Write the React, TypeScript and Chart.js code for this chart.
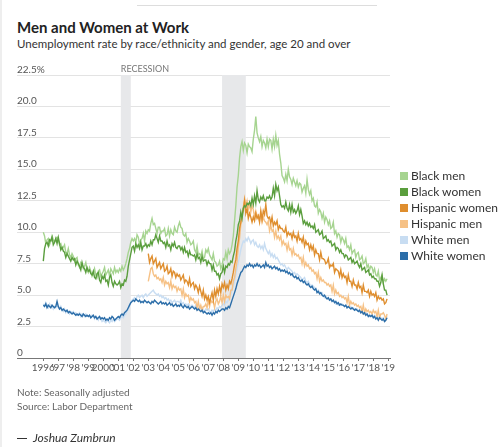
import React, { useEffect, useRef } from "react";
import { Chart, registerables } from "chart.js";

Chart.register(...registerables);

// ---- data (monthly, seasonally adjusted, %) ----
const startMain = 1996; // Jan 1996
const startHispanic = 2003; // Jan 2003

const blackMen = [
  10.0, 9.7, 9.1, 9.4, 9.5, 9.0, 9.3, 9.7, 9.4, 9.2, 9.5, 9.6,
  9.4, 9.0, 9.1, 8.7, 8.8, 9.0, 8.4, 8.3, 8.7, 8.2, 8.0, 8.3,
  8.1, 7.7, 7.9, 8.0, 7.4, 7.2, 7.6, 7.5, 7.1, 7.3, 7.6, 7.0,
  6.8, 7.2, 6.9, 6.5, 6.7, 7.1, 6.6, 6.4, 6.9, 7.0, 6.5, 6.7,
  6.9, 7.2, 6.6, 6.8, 7.0, 6.5, 7.1, 6.9, 6.7, 7.2, 6.8, 7.0,
  6.8, 7.1, 6.9, 7.3, 7.0, 7.2, 7.5, 7.9, 8.4, 8.7, 9.2, 9.5,
  9.3, 9.5, 9.2, 9.8, 9.6, 9.0, 9.4, 9.5, 9.9, 9.3, 10.1, 9.9,
  10.2, 10.1, 10.7, 11.1, 10.6, 10.7, 10.3, 9.9, 10.4, 10.4, 9.9, 10.1,
  10.1, 10.3, 9.7, 9.8, 10.3, 9.7, 10.2, 9.9, 9.8, 10.4, 10.1, 10.0,
  10.5, 10.8, 10.4, 10.3, 9.8, 9.7, 9.9, 9.2, 9.5, 9.3, 9.0, 9.1,
  9.3, 8.6, 8.4, 8.9, 8.2, 8.3, 8.1, 8.5, 7.9, 8.0, 8.6, 8.4,
  8.7, 8.2, 8.0, 7.8, 8.3, 7.7, 7.6, 7.3, 7.4, 7.7, 7.1, 7.4,
  7.9, 7.8, 8.4, 7.9, 8.6, 8.3, 8.5, 9.0, 9.7, 10.9, 12.1, 13.6,
  14.5, 15.9, 16.8, 17.2, 16.5, 17.1, 16.9, 16.3, 17.0, 16.8, 16.7, 16.4,
  17.4, 18.1, 19.2, 17.9, 17.5, 17.2, 17.6, 16.8, 17.3, 17.1, 16.7, 17.4,
  16.8, 17.4, 17.3, 16.6, 17.4, 16.8, 17.7, 16.9, 17.3, 16.2, 15.5, 14.5,
  14.3, 14.0, 14.6, 14.1, 15.0, 14.4, 14.2, 13.8, 14.3, 14.0, 13.7, 14.1,
  13.6, 13.9, 13.8, 13.2, 13.5, 13.7, 13.1, 14.2, 13.4, 13.0, 13.3, 12.5,
  12.7, 12.1, 12.0, 12.4, 11.5, 11.8, 11.6, 11.1, 11.5, 10.8, 11.2, 11.0,
  10.6, 10.9, 10.3, 10.4, 10.8, 9.9, 10.1, 9.6, 9.9, 9.8, 9.2, 9.6,
  9.4, 9.1, 9.5, 8.8, 8.9, 8.6, 9.0, 8.3, 8.5, 8.6, 8.0, 8.3,
  8.4, 7.8, 7.9, 8.1, 7.5, 7.6, 7.9, 7.2, 7.4, 7.0, 7.3, 7.2,
  6.8, 7.1, 6.6, 6.5, 6.9, 6.2, 6.4, 6.6, 6.0, 6.3, 6.1, 6.3,
];

const blackWomen = [
  7.7, 8.7, 9.1, 9.2, 8.9, 9.4, 9.3, 9.6, 9.0, 9.2, 9.5, 9.1,
  9.6, 9.1, 8.6, 8.8, 8.5, 8.4, 8.0, 8.3, 8.1, 7.9, 7.7, 8.0,
  7.8, 7.9, 7.4, 7.7, 7.5, 7.3, 7.0, 7.6, 7.2, 7.1, 6.8, 7.2,
  6.9, 7.0, 6.7, 6.6, 6.9, 6.4, 6.3, 6.7, 6.8, 6.2, 6.0, 6.5,
  6.3, 6.6, 6.1, 6.2, 5.8, 6.4, 6.6, 6.0, 5.7, 6.1, 5.9, 5.8,
  5.9, 6.1, 5.6, 5.9, 5.8, 6.2, 6.1, 6.5, 7.3, 7.8, 8.3, 8.8,
  8.9, 8.5, 9.1, 8.8, 9.0, 8.7, 9.2, 8.6, 8.9, 8.9, 9.1, 8.8,
  9.0, 8.9, 9.3, 9.0, 9.4, 9.4, 9.8, 9.5, 9.2, 9.7, 9.3, 9.3,
  9.1, 9.2, 8.8, 9.3, 8.9, 9.0, 8.6, 9.1, 8.9, 9.2, 8.8, 8.7,
  8.9, 8.9, 8.6, 8.8, 8.4, 8.8, 8.4, 8.5, 8.1, 8.5, 8.2, 8.2,
  8.1, 8.2, 7.8, 8.3, 7.9, 8.0, 7.6, 8.1, 7.7, 7.8, 7.8, 7.4,
  7.7, 7.5, 7.5, 7.0, 7.4, 6.9, 6.9, 6.6, 6.7, 6.3, 6.7, 6.8,
  7.3, 6.8, 7.3, 7.2, 7.5, 7.4, 7.7, 7.6, 8.1, 8.5, 9.3, 9.8,
  10.6, 10.9, 11.6, 11.1, 11.9, 12.1, 12.0, 12.3, 12.2, 12.4, 12.1, 12.7,
  12.2, 12.9, 12.3, 13.3, 12.6, 12.4, 12.8, 12.6, 12.9, 12.5, 12.5, 12.8,
  12.7, 12.9, 12.6, 12.8, 13.5, 12.9, 13.8, 13.3, 13.6, 12.9, 12.2, 12.0,
  12.1, 11.9, 12.4, 11.9, 11.7, 12.2, 11.6, 12.2, 11.6, 11.8, 11.5, 11.7,
  12.1, 11.4, 11.8, 11.3, 10.7, 10.9, 10.6, 10.8, 10.5, 10.7, 10.4, 10.5,
  10.3, 10.6, 10.0, 10.1, 10.2, 9.8, 9.9, 10.1, 9.5, 9.6, 9.7, 9.3,
  9.4, 9.2, 9.3, 8.9, 9.0, 9.1, 8.6, 8.8, 8.7, 8.4, 8.6, 8.3,
  8.3, 8.0, 8.2, 8.1, 7.8, 7.9, 8.0, 7.6, 7.8, 7.5, 7.6, 7.7,
  7.4, 7.2, 7.5, 7.0, 7.1, 7.2, 6.8, 6.9, 7.0, 6.6, 6.7, 6.4,
  6.5, 6.3, 6.3, 6.1, 6.1, 5.7, 6.0, 6.6, 5.9, 5.4, 5.4, 5.0,
];

const hispanicWomen = [
  8.3, 7.6, 7.9, 8.1, 7.5, 7.7, 7.9, 7.2, 7.4, 7.6, 7.1, 7.3,
  7.5, 6.9, 7.0, 7.3, 6.7, 6.8, 7.1, 6.5, 6.9, 6.8, 6.4, 6.7,
  6.5, 6.6, 6.2, 6.4, 6.6, 6.0, 6.2, 6.1, 5.8, 6.3, 5.7, 5.9,
  6.0, 5.5, 5.8, 5.6, 5.2, 5.7, 5.3, 4.9, 5.4, 4.7, 5.0, 4.6,
  4.9, 4.4, 4.8, 5.2, 4.6, 5.4, 4.9, 5.5, 5.1, 5.7, 5.2, 5.9,
  5.6, 6.0, 5.4, 5.8, 5.5, 6.1, 5.9, 6.3, 6.8, 7.4, 7.8, 8.7,
  9.3, 10.3, 10.8, 11.4, 11.8, 12.5, 11.5, 11.9, 11.1, 11.5, 11.2, 10.8,
  11.2, 10.9, 11.5, 11.1, 11.3, 10.8, 11.7, 11.0, 11.7, 11.4, 12.2, 11.3,
  11.1, 11.2, 10.7, 11.2, 10.5, 10.8, 10.6, 10.9, 10.2, 10.5, 10.3, 10.3,
  10.1, 10.0, 10.4, 9.7, 10.0, 9.8, 9.9, 9.5, 10.0, 9.6, 9.7, 9.3,
  9.9, 9.4, 9.5, 9.2, 9.6, 8.9, 9.3, 9.0, 9.1, 8.6, 9.0, 8.6,
  8.9, 8.2, 8.6, 8.3, 8.3, 7.8, 8.4, 7.9, 7.9, 7.8, 7.5, 7.6,
  7.9, 7.2, 7.4, 7.3, 7.5, 6.8, 7.1, 7.0, 6.9, 6.5, 7.0, 6.4,
  6.7, 6.4, 6.5, 6.0, 6.6, 6.1, 6.1, 5.7, 6.2, 5.8, 5.8, 5.5,
  6.0, 5.6, 5.7, 5.2, 5.8, 5.3, 5.3, 5.2, 5.4, 4.9, 5.3, 5.0,
  5.1, 4.9, 5.2, 4.6, 4.9, 4.7, 4.8, 4.6, 4.7, 4.3, 4.4, 4.7,
];

const hispanicMen = [
  6.1, 6.6, 7.1, 7.2, 6.7, 6.5, 6.6, 6.3, 6.4, 6.2, 6.3, 6.0,
  6.4, 5.8, 6.1, 5.9, 6.0, 5.6, 6.1, 5.5, 5.8, 5.6, 5.7, 5.3,
  5.6, 5.4, 5.5, 5.0, 5.5, 4.8, 5.1, 4.9, 5.0, 4.5, 4.8, 4.6,
  4.7, 4.4, 4.5, 4.0, 4.5, 3.9, 4.2, 3.8, 4.1, 4.1, 4.3, 4.0,
  4.6, 4.1, 4.6, 4.4, 4.5, 4.0, 4.5, 4.7, 4.3, 4.5, 4.9, 4.4,
  5.0, 4.5, 5.0, 4.8, 4.9, 4.7, 5.4, 5.4, 6.1, 6.4, 7.1, 7.7,
  8.8, 9.5, 10.6, 11.1, 12.0, 12.7, 12.1, 12.5, 11.8, 12.3, 11.6, 12.1,
  11.8, 11.2, 11.7, 11.3, 11.4, 10.9, 11.5, 10.8, 11.2, 10.9, 10.8, 10.6,
  10.9, 10.1, 10.5, 10.1, 10.2, 9.6, 10.1, 9.5, 9.7, 9.4, 9.7, 9.0,
  9.3, 9.0, 9.1, 8.6, 9.1, 8.6, 8.7, 8.2, 8.7, 8.2, 8.3, 8.1,
  8.2, 7.9, 8.0, 7.5, 8.0, 7.3, 7.6, 7.3, 7.4, 7.1, 7.2, 6.9,
  7.0, 6.7, 6.8, 6.3, 6.8, 6.1, 6.4, 6.1, 6.2, 6.0, 6.0, 5.8,
  5.9, 5.7, 5.8, 5.3, 5.8, 5.1, 5.4, 5.1, 5.2, 4.9, 5.0, 4.8,
  4.9, 4.7, 4.8, 4.4, 4.9, 4.2, 4.5, 4.3, 4.4, 4.2, 4.3, 4.1,
  4.2, 4.0, 4.1, 3.7, 4.2, 3.6, 3.9, 3.7, 3.8, 3.6, 3.7, 3.5,
  3.8, 3.6, 3.7, 3.3, 3.8, 3.2, 3.5, 3.5, 3.6, 3.4, 3.1, 3.5,
];

const whiteMen = [
  4.3, 4.1, 4.4, 4.2, 4.0, 4.3, 4.1, 4.2, 3.9, 4.1, 4.0, 4.2,
  4.0, 3.9, 4.1, 3.8, 3.7, 3.9, 3.6, 3.8, 3.7, 3.5, 3.7, 3.6,
  3.7, 3.5, 3.6, 3.4, 3.5, 3.6, 3.3, 3.5, 3.4, 3.3, 3.5, 3.4,
  3.3, 3.4, 3.2, 3.4, 3.3, 3.1, 3.3, 3.2, 3.0, 3.2, 3.1, 2.9,
  3.0, 2.9, 2.8, 3.0, 2.9, 2.8, 3.0, 2.9, 3.1, 2.9, 3.0, 3.1,
  3.1, 3.0, 3.2, 3.3, 3.2, 3.4, 3.5, 3.7, 3.9, 4.2, 4.5, 4.6,
  4.7, 4.8, 4.6, 4.9, 5.0, 4.8, 4.9, 5.0, 4.8, 5.0, 5.1, 4.9,
  5.0, 5.1, 5.2, 5.3, 5.4, 5.2, 5.1, 5.0, 5.1, 4.9, 5.0, 4.8,
  4.9, 4.7, 4.8, 4.6, 4.7, 4.5, 4.6, 4.4, 4.5, 4.6, 4.4, 4.5,
  4.5, 4.4, 4.6, 4.3, 4.4, 4.2, 4.3, 4.1, 4.3, 4.2, 4.0, 4.2,
  4.1, 4.0, 4.2, 3.9, 4.0, 4.1, 3.9, 4.0, 3.8, 3.7, 3.9, 3.8,
  3.9, 3.7, 3.6, 3.8, 3.7, 3.9, 3.8, 4.0, 3.9, 4.1, 4.0, 4.2,
  4.3, 4.2, 4.5, 4.4, 4.6, 4.8, 5.0, 5.4, 5.7, 6.1, 6.6, 7.1,
  7.6, 8.1, 8.6, 9.0, 9.3, 9.2, 9.5, 9.3, 9.6, 9.4, 9.1, 9.3,
  9.4, 9.0, 9.2, 8.9, 8.8, 9.0, 8.7, 8.9, 8.6, 9.1, 8.7, 8.5,
  8.3, 8.5, 8.1, 8.3, 8.0, 8.2, 7.9, 8.0, 7.8, 7.6, 7.4, 7.5,
  7.3, 7.4, 7.2, 7.0, 7.2, 7.1, 7.0, 6.9, 6.7, 6.8, 6.6, 6.7,
  6.6, 6.5, 6.4, 6.2, 6.3, 6.4, 6.1, 6.0, 6.1, 5.9, 5.7, 5.8,
  5.7, 5.6, 5.5, 5.3, 5.4, 5.2, 5.1, 5.2, 5.0, 4.8, 4.9, 4.8,
  4.7, 4.6, 4.7, 4.5, 4.6, 4.4, 4.3, 4.4, 4.2, 4.3, 4.2, 4.3,
  4.2, 4.1, 4.2, 4.0, 4.1, 4.0, 4.1, 3.9, 4.0, 3.9, 3.8, 3.9,
  3.8, 3.7, 3.6, 3.7, 3.6, 3.5, 3.6, 3.5, 3.4, 3.3, 3.4, 3.3,
  3.3, 3.4, 3.3, 3.2, 3.1, 3.3, 3.2, 3.1, 3.2, 3.0, 3.1, 3.3,
];

const whiteWomen = [
  4.2, 4.1, 4.3, 4.0, 4.2, 4.1, 4.0, 4.2, 4.1, 4.0, 4.1, 4.5,
  4.1, 3.9, 4.0, 3.8, 3.9, 3.8, 3.7, 3.8, 3.6, 3.7, 3.6, 3.5,
  3.6, 3.5, 3.4, 3.5, 3.4, 3.5, 3.4, 3.3, 3.5, 3.4, 3.3, 3.4,
  3.3, 3.4, 3.2, 3.3, 3.4, 3.2, 3.3, 3.1, 3.2, 3.3, 3.1, 3.2,
  3.1, 3.2, 3.0, 3.1, 3.0, 3.2, 3.1, 3.3, 3.2, 3.0, 3.1, 3.2,
  3.3, 3.2, 3.4, 3.5, 3.4, 3.6, 3.7, 3.8, 4.0, 4.2, 4.4, 4.5,
  4.6, 4.5, 4.7, 4.6, 4.5, 4.6, 4.4, 4.5, 4.4, 4.6, 4.5, 4.4,
  4.5, 4.4, 4.3, 4.5, 4.4, 4.6, 4.5, 4.4, 4.3, 4.4, 4.5, 4.3,
  4.4, 4.3, 4.4, 4.2, 4.3, 4.4, 4.2, 4.3, 4.1, 4.2, 4.3, 4.1,
  4.2, 4.1, 4.3, 4.1, 4.0, 4.2, 4.1, 4.0, 4.1, 3.9, 4.0, 4.1,
  4.0, 3.9, 4.0, 3.8, 3.9, 3.8, 3.7, 3.8, 3.6, 3.7, 3.6, 3.5,
  3.6, 3.5, 3.6, 3.4, 3.6, 3.5, 3.7, 3.6, 3.8, 3.7, 3.8, 3.9,
  3.9, 3.8, 4.0, 3.9, 4.1, 4.0, 4.3, 4.6, 4.9, 5.2, 5.5, 5.9,
  6.2, 6.5, 6.8, 6.9, 7.1, 7.3, 7.2, 7.4, 7.3, 7.5, 7.3, 7.4,
  7.2, 7.4, 7.3, 7.5, 7.3, 7.4, 7.2, 7.3, 7.4, 7.2, 7.6, 7.3,
  7.4, 7.2, 7.3, 7.1, 7.2, 7.3, 7.1, 7.2, 7.0, 7.1, 6.9, 7.0,
  6.9, 7.0, 6.8, 6.9, 6.7, 6.8, 6.6, 6.7, 6.5, 6.4, 6.5, 6.3,
  6.4, 6.2, 6.1, 6.2, 6.0, 6.1, 5.9, 5.8, 5.9, 5.7, 5.6, 5.7,
  5.5, 5.4, 5.5, 5.2, 5.3, 5.1, 5.2, 5.0, 4.9, 5.0, 4.8, 4.7,
  4.8, 4.6, 4.7, 4.5, 4.6, 4.4, 4.5, 4.3, 4.4, 4.2, 4.3, 4.2,
  4.2, 4.1, 4.2, 4.0, 4.1, 4.0, 3.9, 4.0, 3.9, 3.8, 3.9, 3.8,
  3.7, 3.8, 3.6, 3.7, 3.5, 3.6, 3.4, 3.5, 3.3, 3.4, 3.3, 3.4,
  3.2, 3.3, 3.1, 3.2, 3.0, 3.2, 3.1, 3.0, 3.1, 2.9, 3.0, 3.2,
];

const seriesNames = ["Black men", "Black women", "Hispanic women", "Hispanic men", "White men", "White women"];
const seriesColors = ["#a6d490", "#5a9e3d", "#df8e2e", "#f6c185", "#c8ddf2", "#2c6ea9"];

const yTickValues = [0, 2.5, 5, 7.5, 10, 12.5, 15, 17.5, 20, 22.5];
const yTickLabels = ["0", "2.5", "5.0", "7.5", "10.0", "12.5", "15.0", "17.5", "20.0", "22.5%"];

const xTickYears = [1996, 1997, 1998, 1999, 2000, 2001, 2002, 2003, 2004, 2005, 2006, 2007,
  2008, 2009, 2010, 2011, 2012, 2013, 2014, 2015, 2016, 2017, 2018, 2019];
const xTickLabels = ["1996", "'97", "'98", "'99", "2000", "'01", "'02", "'03", "'04", "'05", "'06", "'07",
  "'08", "'09", "'10", "'11", "'12", "'13", "'14", "'15", "'16", "'17", "'18", "'19"];

const recessionStarts = [2001.167, 2007.917];
const recessionEnds = [2001.833, 2009.5];
const recessionLabel = "RECESSION";

const FONT = "Lato, 'Noto Sans', sans-serif";

function toPoints(values: number[], start: number) {
  return values.map((v, i) => ({ x: start + i / 12, y: v }));
}

const decorPlugin = {
  id: "decor",
  beforeDatasetsDraw(chart: any) {
    const { ctx, chartArea, scales } = chart;
    const xs = scales.x;
    ctx.save();
    ctx.fillStyle = "#e7e8ea";
    for (let i = 0; i < recessionStarts.length; i++) {
      const a = xs.getPixelForValue(recessionStarts[i]);
      const b = xs.getPixelForValue(recessionEnds[i]);
      ctx.fillRect(a, chartArea.top, b - a, chartArea.bottom - chartArea.top);
    }
    ctx.restore();
  },
  afterDraw(chart: any) {
    const { ctx, chartArea, scales } = chart;
    const ys = scales.y;
    const xs = scales.x;
    ctx.save();
    ctx.font = `10px ${FONT}`;
    ctx.fillStyle = "#555";
    ctx.textAlign = "left";
    ctx.textBaseline = "alphabetic";
    yTickValues.forEach((v, i) => {
      ctx.fillText(yTickLabels[i], chartArea.left, ys.getPixelForValue(v) - 2);
    });
    ctx.font = `9px ${FONT}`;
    ctx.fillStyle = "#777";
    ctx.fillText(recessionLabel, xs.getPixelForValue(recessionStarts[0]), chartArea.top - 3);
    ctx.restore();
  },
};

export default function App() {
  const ref = useRef<HTMLCanvasElement | null>(null);

  useEffect(() => {
    if (!ref.current) return;
    const all = [
      { name: seriesNames[5], color: seriesColors[5], data: toPoints(whiteWomen, startMain) },
      { name: seriesNames[1], color: seriesColors[1], data: toPoints(blackWomen, startMain) },
      { name: seriesNames[2], color: seriesColors[2], data: toPoints(hispanicWomen, startHispanic) },
      { name: seriesNames[0], color: seriesColors[0], data: toPoints(blackMen, startMain) },
      { name: seriesNames[3], color: seriesColors[3], data: toPoints(hispanicMen, startHispanic) },
      { name: seriesNames[4], color: seriesColors[4], data: toPoints(whiteMen, startMain) },
    ];
    const chart = new Chart(ref.current, {
      type: "line",
      data: {
        datasets: all.map((s) => ({
          label: s.name,
          data: s.data,
          borderColor: s.color,
          backgroundColor: s.color,
          borderWidth: 1.4,
          pointRadius: 0,
          tension: 0,
          fill: false,
        })),
      },
      options: {
        responsive: false,
        animation: false,
        events: [],
        layout: { padding: { left: 17, right: 110, top: 75, bottom: 73 } },
        plugins: { legend: { display: false }, tooltip: { enabled: false } },
        scales: {
          x: {
            type: "linear",
            min: 1994.247,
            max: 2019.113,
            afterBuildTicks: (axis: any) => {
              axis.ticks = xTickYears.map((v) => ({ value: v }));
            },
            afterFit: (scale: any) => {
              scale.height = 16;
            },
            grid: { drawOnChartArea: false, drawTicks: true, tickLength: 3, color: "#777" },
            border: { display: true, color: "#777", width: 1 },
            ticks: {
              autoSkip: false,
              maxRotation: 0,
              minRotation: 0,
              padding: 1,
              color: "#555",
              font: { family: FONT, size: 10 },
              callback: (_v: any, i: number) => xTickLabels[i],
            },
          },
          y: {
            type: "linear",
            min: 0,
            max: 22.5,
            afterBuildTicks: (axis: any) => {
              axis.ticks = yTickValues.map((v) => ({ value: v }));
            },
            afterFit: (scale: any) => {
              scale.width = 0;
            },
            grid: { color: "#e3e3e3", drawTicks: false, lineWidth: 1 },
            border: { display: false },
            ticks: { display: false },
          },
        },
      },
      plugins: [decorPlugin],
    });
    return () => chart.destroy();
  }, []);

  const legendOrder = [0, 1, 2, 3, 4, 5];

  return (
    <div
      style={{
        position: "absolute",
        left: 0,
        top: 0,
        width: 500,
        height: 447,
        background: "#fff",
        overflow: "hidden",
        fontFamily: FONT,
      }}
    >
      <div style={{ position: "absolute", left: 0, top: 0, width: 2, height: 447, background: "#eeeeee" }} />
      <div style={{ position: "absolute", left: 137, top: 5, width: 240, height: 1, background: "#dddddd" }} />
      <div
        style={{
          position: "absolute",
          left: 17,
          top: 18,
          fontSize: 15,
          lineHeight: "18px",
          fontWeight: 700,
          color: "#222",
          whiteSpace: "nowrap",
        }}
      >
        Men and Women at Work
      </div>
      <div
        style={{
          position: "absolute",
          left: 17,
          top: 37,
          fontSize: 11.5,
          lineHeight: "14px",
          color: "#333",
          whiteSpace: "nowrap",
        }}
      >
        Unemployment rate by race/ethnicity and gender, age 20 and over
      </div>
      <canvas ref={ref} width={500} height={447} style={{ position: "absolute", left: 0, top: 0, width: 500, height: 447 }} />
      <div style={{ position: "absolute", left: 400, top: 168 }}>
        {legendOrder.map((i) => (
          <div key={i} style={{ position: "relative", height: 16, lineHeight: "16px", fontSize: 12, color: "#333", whiteSpace: "nowrap" }}>
            <span
              style={{
                position: "absolute",
                left: 0,
                top: 4,
                width: 8,
                height: 8,
                background: seriesColors[i],
              }}
            />
            <span style={{ position: "absolute", left: 11, top: 0 }}>{seriesNames[i]}</span>
          </div>
        ))}
      </div>
      <div style={{ position: "absolute", left: 17, top: 385, fontSize: 10, lineHeight: "14px", color: "#666", whiteSpace: "nowrap" }}>
        <div>Note: Seasonally adjusted</div>
        <div>Source: Labor Department</div>
      </div>
      <div style={{ position: "absolute", left: 17, top: 431, fontSize: 12, lineHeight: "14px", color: "#333", whiteSpace: "nowrap" }}>
        <span style={{ display: "inline-block", width: 10, height: 1, background: "#333", verticalAlign: "middle", marginRight: 6 }} />
        <span style={{ fontStyle: "italic" }}>Joshua Zumbrun</span>
      </div>
    </div>
  );
}
